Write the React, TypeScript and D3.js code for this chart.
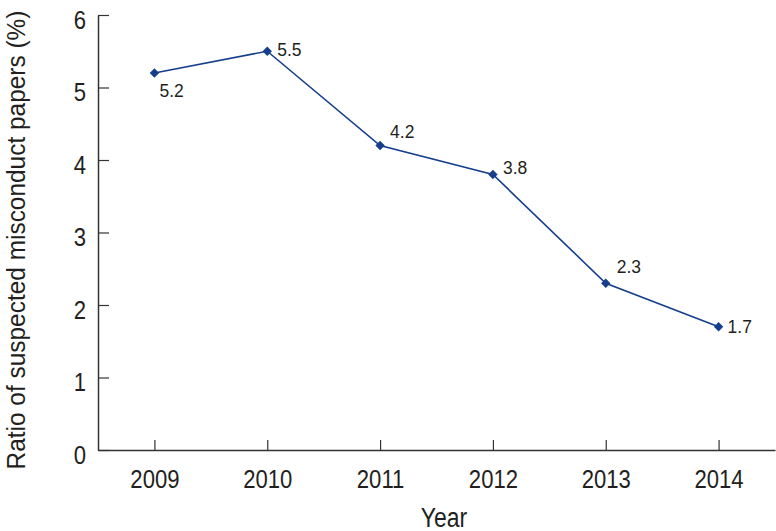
import React, { useRef, useEffect } from "react";
import * as d3 from "d3";

const years = ["2009", "2010", "2011", "2012", "2013", "2014"];
const ratios = [5.2, 5.5, 4.2, 3.8, 2.3, 1.7];
const yTicks = [0, 1, 2, 3, 4, 5, 6];

const WIDTH = 776;
const HEIGHT = 531;
const FONT = "'Liberation Sans', Arial, Helvetica, sans-serif";
const INK = "#231f20";
const LINE = "#153f8c";
// the original uses a condensed face; squeeze a regular one horizontally
const SQUEEZE = 0.85;

// where each value label sits relative to its point (dx, dy of the baseline)
const LABEL_OFFSETS = [
  [5, 24],
  [10, 5],
  [10, -8],
  [10, -1],
  [11, -10],
  [9, 6],
];

export default function App() {
  const ref = useRef<SVGSVGElement>(null);

  useEffect(() => {
    const svg = d3.select(ref.current);
    svg.selectAll("*").remove();

    const x = d3.scalePoint().domain(years).range([98, 775]).padding(0.5);
    const y = d3.scaleLinear().domain([0, 6]).range([450, 15]);

    // y axis
    const yAxis = svg
      .append("g")
      .attr("transform", "translate(98,0)")
      .call(
        d3
          .axisLeft(y)
          .tickValues(yTicks)
          .tickSizeInner(-11)
          .tickSizeOuter(0)
          .tickFormat(d3.format("d"))
      );
    yAxis.select(".domain").attr("stroke", "#333").attr("stroke-width", 1.5);
    yAxis.selectAll(".tick line").attr("stroke", "#333").attr("stroke-width", 1.2);
    yAxis
      .selectAll(".tick text")
      .attr("x", 0)
      .attr("dy", "0.5em")
      .attr("transform", `translate(-12,0) scale(${SQUEEZE},1)`)
      .attr("fill", INK)
      .style("font-family", FONT)
      .style("font-size", "26px");

    // x axis
    const xAxis = svg
      .append("g")
      .attr("transform", "translate(0,450)")
      .call(d3.axisBottom(x).tickSizeInner(-10).tickSizeOuter(0));
    xAxis.select(".domain").attr("stroke", "#333").attr("stroke-width", 1.5);
    xAxis.selectAll(".tick line").attr("stroke", "#333").attr("stroke-width", 1.2);
    xAxis
      .selectAll(".tick text")
      .attr("y", 0)
      .attr("dy", 0)
      .attr("transform", `translate(0,38) scale(${SQUEEZE},1)`)
      .attr("fill", INK)
      .style("font-family", FONT)
      .style("font-size", "26px");

    // axis titles
    svg
      .append("text")
      .attr("transform", "translate(25,240) rotate(-90) scale(0.94,1)")
      .attr("text-anchor", "middle")
      .attr("fill", INK)
      .style("font-family", FONT)
      .style("font-size", "26px")
      .text("Ratio of suspected misconduct papers (%)");

    svg
      .append("text")
      .attr("transform", `translate(444,527) scale(${SQUEEZE},1)`)
      .attr("text-anchor", "middle")
      .attr("fill", INK)
      .style("font-family", FONT)
      .style("font-size", "27px")
      .text("Year");

    // series line
    const lineGen = d3
      .line<number>()
      .x((d, i) => x(years[i]) as number)
      .y((d) => y(d));

    svg
      .append("path")
      .datum(ratios)
      .attr("fill", "none")
      .attr("stroke", LINE)
      .attr("stroke-width", 1.6)
      .attr("d", lineGen);

    // diamond markers (rotated squares)
    svg
      .selectAll(".marker")
      .data(ratios)
      .join("path")
      .attr("class", "marker")
      .attr("d", d3.symbol().type(d3.symbolSquare).size(44))
      .attr("transform", (d, i) => `translate(${x(years[i])},${y(d)}) rotate(45)`)
      .attr("fill", LINE);

    // value labels
    svg
      .selectAll(".value")
      .data(ratios)
      .join("text")
      .attr("class", "value")
      .attr(
        "transform",
        (d, i) =>
          `translate(${(x(years[i]) as number) + LABEL_OFFSETS[i][0]},${
            y(d) + LABEL_OFFSETS[i][1]
          }) scale(0.92,1)`
      )
      .attr("fill", INK)
      .style("font-family", FONT)
      .style("font-size", "19px")
      .text((d) => d.toFixed(1));
  }, []);

  return (
    <svg
      ref={ref}
      width={WIDTH}
      height={HEIGHT}
      style={{ position: "absolute", left: 0, top: 0, background: "#fff" }}
    />
  );
}
